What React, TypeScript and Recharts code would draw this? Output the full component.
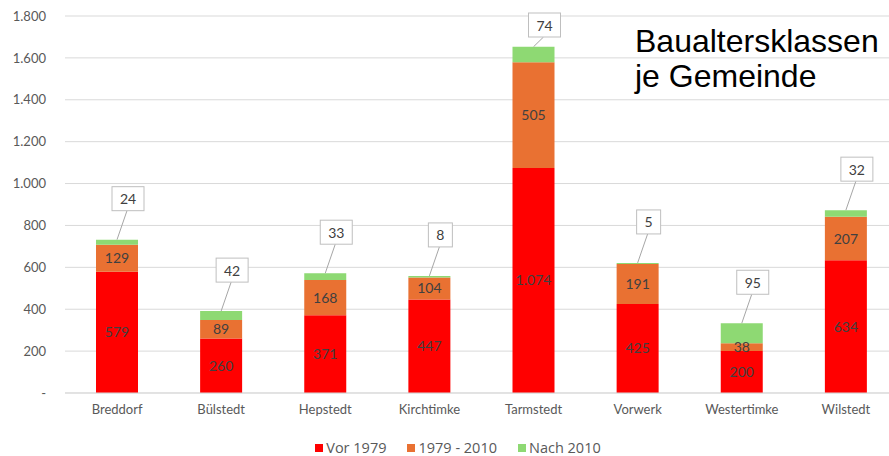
import React from "react";
import {
  BarChart,
  Bar,
  XAxis,
  YAxis,
  CartesianGrid,
  Legend,
  LabelList,
} from "recharts";

const gemeinden = [
  "Breddorf",
  "Bülstedt",
  "Hepstedt",
  "Kirchtimke",
  "Tarmstedt",
  "Vorwerk",
  "Westertimke",
  "Wilstedt",
];
const vor1979 = [579, 260, 371, 447, 1074, 425, 200, 634];
const von1979bis2010 = [129, 89, 168, 104, 505, 191, 38, 207];
const nach2010 = [24, 42, 33, 8, 74, 5, 95, 32];
const yTicks = [0, 200, 400, 600, 800, 1000, 1200, 1400, 1600, 1800];

const data = gemeinden.map((name, i) => ({
  name,
  vor: vor1979[i],
  mitte: von1979bis2010[i],
  nach: nach2010[i],
}));

const RED = "#FF0000";
const ORANGE = "#E97132";
const GREEN = "#8ED973";
const FONT = "Lato, 'Open Sans', sans-serif";

const fmt = (v: number) =>
  v === 0 ? "-" : String(v).replace(/\B(?=(\d{3})+(?!\d))/g, ".");

const CalloutLabel = (props: any) => {
  const { x, y, width, value } = props;
  const cx = Number(x) + Number(width) / 2;
  const top = Number(y);
  const text = String(value);
  const boxW = text.length * 8 + 16;
  const boxH = 24;
  const bx = cx + 11;
  const by = Math.max(top - 41, 25);
  return (
    <g>
      <line x1={cx} y1={top} x2={bx - 1} y2={by + boxH / 2} stroke="#A6A6A6" strokeWidth={1} />
      <rect
        x={bx - boxW / 2}
        y={by - boxH / 2}
        width={boxW}
        height={boxH}
        fill="#FFFFFF"
        stroke="#BFBFBF"
        strokeWidth={1}
      />
      <text
        x={bx}
        y={by}
        textAnchor="middle"
        dominantBaseline="central"
        fill="#404040"
        fontSize={14}
        fontFamily={FONT}
      >
        {text}
      </text>
    </g>
  );
};

const LegendContent = () => {
  const items = [
    { label: "Vor 1979", color: RED },
    { label: "1979 - 2010", color: ORANGE },
    { label: "Nach 2010", color: GREEN },
  ];
  return (
    <div
      style={{
        display: "flex",
        justifyContent: "center",
        gap: 21,
        paddingTop: 10,
        paddingLeft: 18,
        fontFamily: "'Open Sans', sans-serif",
        fontSize: 14.5,
        color: "#595959",
        lineHeight: "14px",
      }}
    >
      {items.map((it) => (
        <span key={it.label} style={{ display: "flex", alignItems: "center" }}>
          <span
            style={{
              display: "inline-block",
              width: 8,
              height: 8,
              background: it.color,
              marginRight: 3,
            }}
          />
          {it.label}
        </span>
      ))}
    </div>
  );
};

export default function App() {
  return (
    <div
      style={{
        position: "absolute",
        left: 0,
        top: 0,
        width: 889,
        height: 456,
        overflow: "hidden",
        background: "#FFFFFF",
      }}
    >
      <BarChart
        width={898}
        height={456}
        data={data}
        margin={{ top: 16, right: 0, left: 0, bottom: 0 }}
      >
        <CartesianGrid vertical={false} stroke="#D9D9D9" />
        <XAxis
          dataKey="name"
          height={38}
          tickLine={false}
          tickMargin={6}
          axisLine={{ stroke: "#D9D9D9" }}
          tick={{ fontSize: 13, fill: "#595959", fontFamily: FONT }}
          interval={0}
        />
        <YAxis
          width={65}
          domain={[0, 1800]}
          ticks={yTicks}
          tickFormatter={fmt}
          axisLine={false}
          tickLine={false}
          tickMargin={13}
          tick={{ fontSize: 13, fill: "#595959", fontFamily: FONT }}
        />
        <Legend verticalAlign="bottom" height={25} content={<LegendContent />} />
        <Bar dataKey="vor" name="Vor 1979" stackId="a" fill={RED} barSize={42} isAnimationActive={false}>
          <LabelList
            dataKey="vor"
            position="center"
            formatter={(v: any) => fmt(Number(v))}
            fill="#404040"
            fontSize={14}
            fontFamily={FONT}
          />
        </Bar>
        <Bar dataKey="mitte" name="1979 - 2010" stackId="a" fill={ORANGE} barSize={42} isAnimationActive={false}>
          <LabelList
            dataKey="mitte"
            position="center"
            formatter={(v: any) => fmt(Number(v))}
            fill="#404040"
            fontSize={14}
            fontFamily={FONT}
          />
        </Bar>
        <Bar dataKey="nach" name="Nach 2010" stackId="a" fill={GREEN} barSize={42} isAnimationActive={false}>
          <LabelList dataKey="nach" content={<CalloutLabel />} />
        </Bar>
      </BarChart>
      <div
        style={{
          position: "absolute",
          left: 635,
          top: 24,
          fontFamily: "'Liberation Sans', Arial, sans-serif",
          fontSize: 32,
          lineHeight: "35px",
          color: "#000000",
        }}
      >
        Baualtersklassen
        <br />
        je Gemeinde
      </div>
    </div>
  );
}
